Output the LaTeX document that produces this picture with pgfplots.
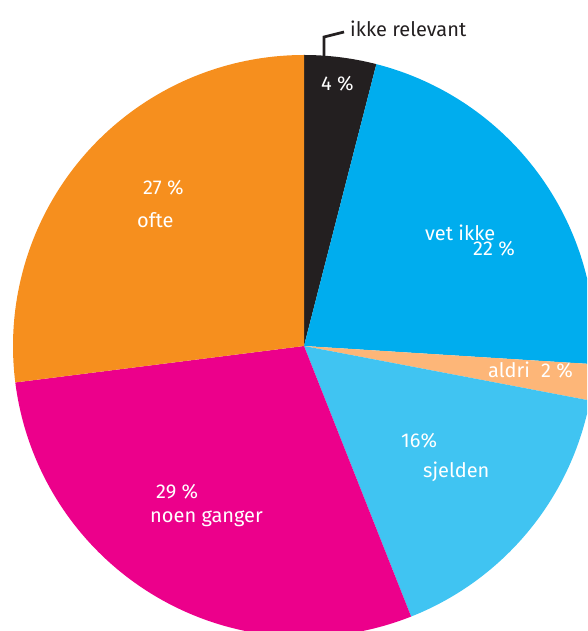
\documentclass[border=0pt]{standalone}
\usepackage{pgfplots}
\pgfplotsset{compat=1.18}
\usepackage{pgfplotstable}
\usepackage{fontspec}
\setmainfont{Fira Sans}

\definecolor{cBlack}{HTML}{231F20}
\definecolor{cBlue}{HTML}{00ADEE}
\definecolor{cPeach}{HTML}{FDB678}
\definecolor{cSky}{HTML}{40C4F2}
\definecolor{cMagenta}{HTML}{EC008B}
\definecolor{cOrange}{HTML}{F68F1E}

% share of answers, clockwise from 12 o'clock
\pgfplotstableread[col sep=comma]{
name,value,colour
ikke relevant,4,cBlack
vet ikke,22,cBlue
aldri,2,cPeach
sjelden,16,cSky
noen ganger,29,cMagenta
ofte,27,cOrange
}\piedata

\tikzset{lbl/.style={anchor=base west, inner sep=0pt, text=white,
  font=\fontsize{20}{23}\selectfont}}

\begin{document}
\begin{tikzpicture}
\begin{axis}[
    name=pie,
    hide axis,
    scale only axis,
    x=1pt, y=1pt,
    xmin=0, xmax=587,
    ymin=0, ymax=631,
    clip=true,
]
\pgfplotstablegetrowsof{\piedata}
\pgfmathtruncatemacro\lastrow{\pgfplotsretval-1}
\def\startangle{90}
\pgfplotsforeachungrouped \i in {0,...,\lastrow}{%
  \pgfplotstablegetelem{\i}{value}\of\piedata \let\val\pgfplotsretval
  \pgfplotstablegetelem{\i}{colour}\of\piedata \let\col\pgfplotsretval
  \pgfmathsetmacro\endangle{\startangle-3.6*\val}
  \edef\slice{\noexpand\fill[\col] (axis cs:304,285) -- ++(\startangle:291pt)
    arc[start angle=\startangle, end angle=\endangle, radius=291pt] -- cycle;}
  \slice
  \let\startangle\endangle
}

% leader line for the small slice
\draw[cBlack, line width=2.7pt] (axis cs:324,575) -- (axis cs:324,594) -- (axis cs:344,599);
\node[lbl, text=cBlack] at (axis cs:350,594) {ikke relevant};

\node[lbl] at (axis cs:321,540) {4 \%};
\node[lbl] at (axis cs:425,390) {vet ikke};
\node[lbl] at (axis cs:473,375) {22 \%};
\node[lbl] at (axis cs:488,253) {aldri};
\node[lbl] at (axis cs:541,253) {2 \%};
\node[lbl] at (axis cs:401,183) {16\%};
\node[lbl] at (axis cs:423,153) {sjelden};
\node[lbl] at (axis cs:156,132) {29 \%};
\node[lbl] at (axis cs:150,108) {noen ganger};
\node[lbl] at (axis cs:143,436) {27 \%};
\node[lbl] at (axis cs:137,403) {ofte};
\end{axis}
\pgfresetboundingbox
\path[use as bounding box] (pie.south west) rectangle (pie.north east);
\end{tikzpicture}
\end{document}
